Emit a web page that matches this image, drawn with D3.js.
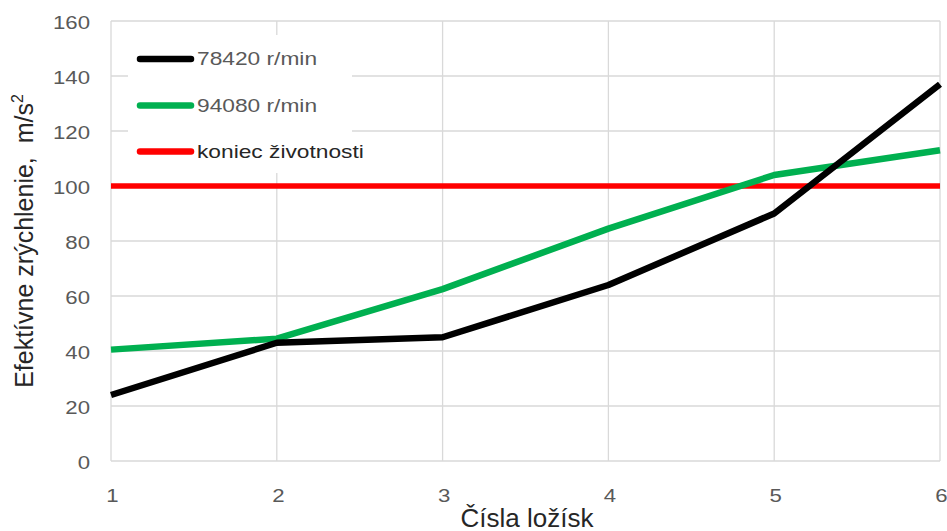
<!DOCTYPE html>
<html><head><meta charset="utf-8">
<script src="https://cdn.jsdelivr.net/npm/d3@7"></script>
<style>body{margin:0;background:#fff}svg{display:block}</style>
</head><body>
<svg id="c" width="947" height="531"></svg>
<script>
const categories = [1, 2, 3, 4, 5, 6];
const series78420 = [24, 43, 45, 64, 90, 137];
const series94080 = [40.5, 44.5, 62.5, 84.5, 104, 113];
const limitValues = [100, 100, 100, 100, 100, 100];
const yTicks = [0, 20, 40, 60, 80, 100, 120, 140, 160];
const seriesNames = ["78420 r/min", "94080 r/min", "koniec životnosti"];
const seriesColors = ["#000000", "#00b050", "#ff0000"];

const svg = d3.select("#c");
const x = d3.scaleLinear().domain([1, 6]).range([111, 940]);
const y = d3.scaleLinear().domain([0, 160]).range([461, 21]);
const font = "'Liberation Sans', Arial, sans-serif";

// gridlines
svg.append("g").selectAll("line").data(yTicks).join("line")
  .attr("x1", x(1)).attr("x2", x(6)).attr("y1", d => y(d)).attr("y2", d => y(d))
  .attr("stroke", "#d9d9d9").attr("stroke-width", 1.3);
svg.append("g").selectAll("line").data(categories).join("line")
  .attr("x1", d => x(d)).attr("x2", d => x(d)).attr("y1", y(0)).attr("y2", y(160))
  .attr("stroke", "#d9d9d9").attr("stroke-width", 1.3);

// axes labels
const yAxis = d3.axisLeft(y).tickValues(yTicks).tickSize(0).tickPadding(21);
const gy = svg.append("g").attr("transform", `translate(${x(1)},0)`).call(yAxis);
gy.select(".domain").remove();
gy.selectAll("text").attr("font-family", font).attr("font-size", 18.5).attr("fill", "#595959")
  .attr("x", 0).attr("dy", "0.36em").attr("transform", "translate(-21,1) scale(1.2,1)");

const xAxis = d3.axisBottom(x).tickValues(categories).tickFormat(d3.format("d")).tickSize(0).tickPadding(0);
const gx = svg.append("g").attr("transform", `translate(0,${y(0)})`).call(xAxis);
gx.select(".domain").remove();
gx.selectAll("text").attr("font-family", font).attr("font-size", 18.5).attr("fill", "#595959")
  .attr("y", 0).attr("dy", 0).attr("transform", "translate(1,40.5) scale(1.2,1)");

// lines
const line = d3.line().x((d, i) => x(categories[i])).y(d => y(d));
const data = [limitValues, series94080, series78420];
const cols = [seriesColors[2], seriesColors[1], seriesColors[0]];
data.forEach((s, k) => {
  svg.append("path").datum(s).attr("d", line).attr("fill", "none")
    .attr("stroke", cols[k]).attr("stroke-width", k === 0 ? 5.5 : 6.5)
    .attr("stroke-linejoin", "round").attr("stroke-linecap", "butt");
});

// legend
const lg = svg.append("g");
lg.append("rect").attr("x", 128).attr("y", 35).attr("width", 224).attr("height", 138).attr("fill", "#fff");
const ly = [59, 105.5, 151.5];
seriesNames.forEach((n, i) => {
  lg.append("line").attr("x1", 140).attr("x2", 191).attr("y1", ly[i]).attr("y2", ly[i])
    .attr("stroke", seriesColors[i]).attr("stroke-width", 6.5).attr("stroke-linecap", "round");
  lg.append("text").attr("transform", `translate(197,${ly[i]}) scale(1.3,1)`).attr("dy", "0.36em")
    .attr("font-family", font).attr("font-size", 17.5)
    .attr("fill", i === 2 ? "#262626" : "#595959").text(n);
});

// titles
svg.append("text").attr("transform", `translate(33,241) rotate(-90)`)
  .attr("text-anchor", "middle").attr("font-family", font).attr("font-size", 25).attr("fill", "#262626")
  .html("Efektívne zrýchlenie,&#160; m/s<tspan dy='-10' font-size='16'>2</tspan>");
svg.append("text").attr("x", 527).attr("y", 527).attr("text-anchor", "middle")
  .attr("font-family", font).attr("font-size", 26).attr("fill", "#262626").text("Čísla ložísk");
</script>
</body></html>
